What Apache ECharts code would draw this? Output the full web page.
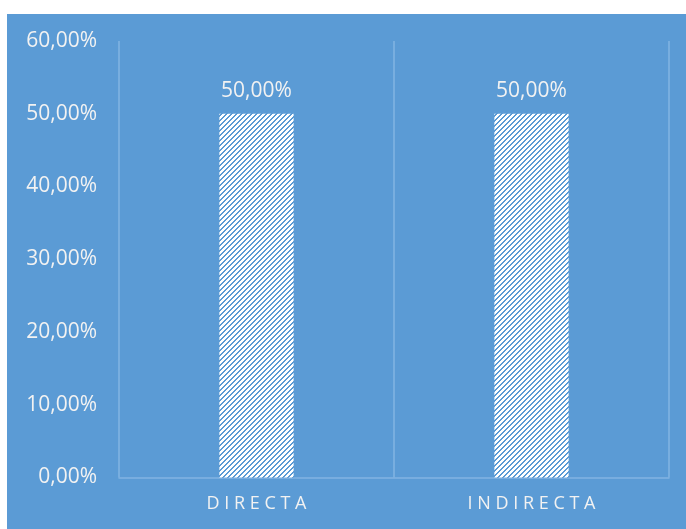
<!DOCTYPE html>
<html>
<head>
<meta charset="utf-8">
<script src="https://cdn.jsdelivr.net/npm/echarts@6/dist/echarts.min.js"></script>
<style>
  html, body { margin: 0; padding: 0; background: #ffffff; }
  #chart { width: 686px; height: 529px; }
</style>
</head>
<body>
<div id="chart"></div>
<script>
// Categories and shares (fractions of 1)
const categories = ['DIRECTA', 'INDIRECTA'];
const shares = [0.5, 0.5];
// Value axis range
const axisMin = 0;
const axisMax = 0.6;
const axisStep = 0.1;

const BLUE = '#5B9BD5';
const TEXT = '#F2F2F2';
const LINE = '#82B4E2';
const FONT = '"Open Sans", "Noto Sans", sans-serif';

// Spanish-style percent formatting: 0.5 -> "50,00%"
function pct(v) {
  return (v * 100).toFixed(2).replace('.', ',') + '%';
}

// Spread capital letters out like the tracked axis captions
function tracked(s) {
  return s.split('').join(' ');
}

// Diagonal hatch fill for the bars
function hatch() {
  const c = document.createElement('canvas');
  c.width = 5; c.height = 5;
  const ctx = c.getContext('2d');
  ctx.fillStyle = '#ffffff';
  ctx.fillRect(0, 0, 5, 5);
  ctx.fillStyle = BLUE;
  for (let y = 0; y < 5; y++) {
    const x = 4 - y;
    ctx.fillRect(x, y, 1, 1);
    ctx.fillRect((x + 1) % 5, y, 1, 1);
  }
  return c;
}

const chart = echarts.init(document.getElementById('chart'));
chart.setOption({
  backgroundColor: '#ffffff',
  animation: false,
  graphic: [{
    type: 'rect',
    left: 7, top: 14,
    shape: { width: 679, height: 515 },
    style: { fill: BLUE },
    z: -10
  }],
  grid: { left: 119, right: 17, top: 41, bottom: 51.5, containLabel: false },
  xAxis: {
    type: 'category',
    data: categories,
    axisLine: { show: true, lineStyle: { color: LINE, width: 1.5 } },
    axisTick: { show: false },
    splitLine: { show: true, lineStyle: { color: LINE, width: 1.5 } },
    axisLabel: {
      color: TEXT, fontFamily: FONT, fontSize: 18, margin: 17,
      formatter: tracked
    }
  },
  yAxis: {
    type: 'value',
    min: axisMin, max: axisMax, interval: axisStep,
    axisLine: { show: false },
    axisTick: { show: false },
    splitLine: { show: false },
    axisLabel: {
      color: TEXT, fontFamily: FONT, fontSize: 21, margin: 22,
      formatter: pct
    }
  },
  series: [{
    type: 'bar',
    data: shares,
    barWidth: '27%',
    itemStyle: { color: { image: hatch(), repeat: 'repeat' } },
    label: {
      show: true, position: 'top', distance: 12,
      color: TEXT, fontFamily: FONT, fontSize: 21,
      formatter: p => pct(p.value)
    }
  }]
});
</script>
</body>
</html>
